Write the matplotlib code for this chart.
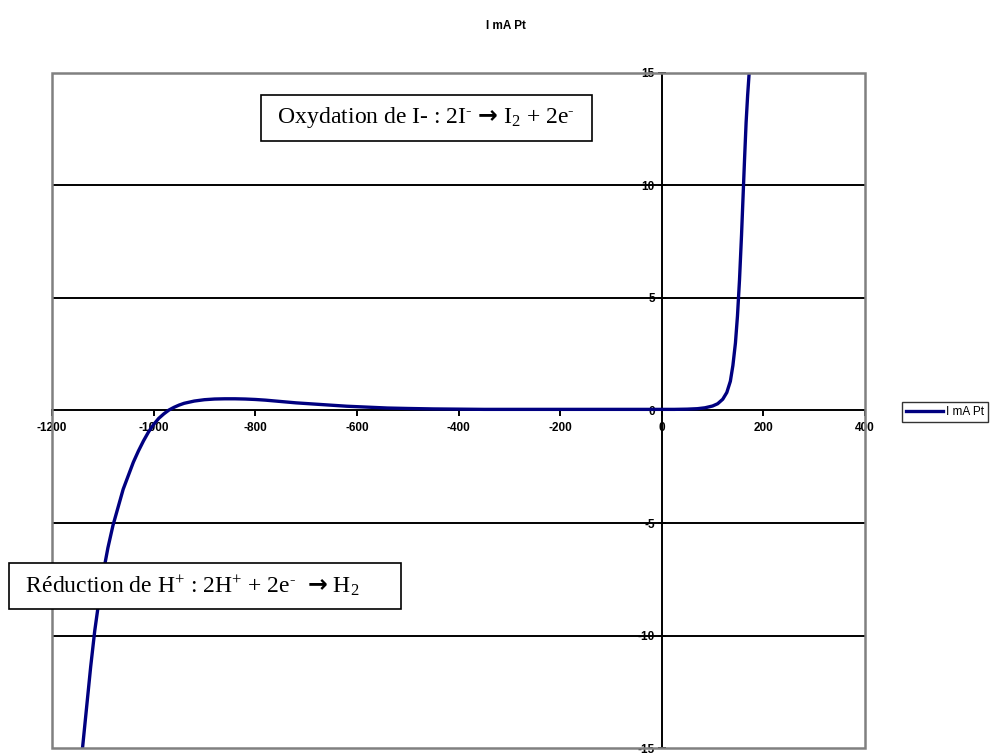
import matplotlib
matplotlib.use('Agg')
import matplotlib.pyplot as plt
from matplotlib.patches import Rectangle

# Data (potential in mV, current in mA)
potential = [-1140, -1132, -1124, -1116, -1108, -1100, -1090, -1080, -1070, -1060,
             -1050, -1040, -1030, -1020, -1010, -1000, -990, -980, -970, -960,
             -950, -940, -920, -900, -880, -860, -840, -820, -800, -780,
             -760, -740, -720, -700, -680, -660, -640, -620, -600, -580,
             -560, -540, -520, -500, -450, -400, -350, -300, -250, -200,
             -150, -100, -50, 0, 25, 50, 70, 85, 100, 110,
             120, 128, 135, 140, 145, 149, 153, 157, 160, 163,
             166, 169, 172]
current = [-15.0, -13.2, -11.4, -9.8, -8.5, -7.3, -6.1, -5.1, -4.3, -3.5,
           -2.9, -2.3, -1.8, -1.35, -0.95, -0.62, -0.35, -0.15, 0.02, 0.14,
           0.24, 0.32, 0.42, 0.48, 0.51, 0.52, 0.52, 0.51, 0.49, 0.46,
           0.42, 0.38, 0.34, 0.31, 0.28, 0.25, 0.22, 0.19, 0.17, 0.15,
           0.13, 0.11, 0.10, 0.09, 0.07, 0.06, 0.05, 0.05, 0.05, 0.05,
           0.05, 0.05, 0.05, 0.05, 0.05, 0.06, 0.08, 0.12, 0.2, 0.3,
           0.5, 0.8, 1.3, 2.0, 3.0, 4.2, 5.8, 7.8, 9.5, 11.2,
           12.8, 14.0, 15.0]

x_ticks = [-1200, -1000, -800, -600, -400, -200, 0, 200, 400]
y_ticks = [-15, -10, -5, 0, 5, 10, 15]
grid_levels = [-10, -5, 5, 10]

series_name = 'I mA Pt'
ox_label = r' Oxydation de I- : 2I$^{\text{-}}$ $\mathbf{→}$ I$_{2}$ + 2e$^{\text{-}}$  '
red_label = r' Réduction de H$^{+}$ : 2H$^{+}$ + 2e$^{\text{-}}$  $\mathbf{→}$ H$_{2}$      '

plt.rcParams['axes.unicode_minus'] = False
plt.rcParams['mathtext.fontset'] = 'custom'
plt.rcParams['mathtext.rm'] = 'Liberation Serif'
plt.rcParams['mathtext.it'] = 'Liberation Serif'
plt.rcParams['mathtext.bf'] = 'DejaVu Sans:bold'

fig = plt.figure(figsize=(9.93, 7.53), dpi=100)
ax = fig.add_axes([0.0524, 0.0066, 0.8187, 0.8965])

for lvl in grid_levels:
    ax.axhline(lvl, color='black', lw=1.4, zorder=1)

line, = ax.plot(potential, current, color='#000080', lw=2.4, label=series_name, zorder=3)

ax.set_xlim(-1200, 400)
ax.set_ylim(-15, 15)

# axes crossing at zero
ax.spines['left'].set_position(('data', 0))
ax.spines['bottom'].set_position(('data', 0))
ax.spines['right'].set_visible(False)
ax.spines['top'].set_visible(False)
for s in ['left', 'bottom']:
    ax.spines[s].set_color('black')
    ax.spines[s].set_linewidth(1.4)
    ax.spines[s].set_zorder(2)

ax.set_xticks(x_ticks)
ax.set_xticklabels([str(v) for v in x_ticks])
ax.set_yticks(y_ticks)
ax.set_yticklabels([str(v) for v in y_ticks])
ax.tick_params(axis='x', direction='out', length=4, width=1.4, pad=4,
               labelsize=8.5)
ax.tick_params(axis='y', direction='inout', length=6, width=1.4, pad=2,
               labelsize=8.5)
for lab in ax.get_xticklabels() + ax.get_yticklabels():
    lab.set_fontfamily('Liberation Sans')
    lab.set_fontweight('bold')

# gray plot-area border
ax.add_patch(Rectangle((0, 0), 1, 1, transform=ax.transAxes, fill=False,
                       edgecolor='#808080', lw=1.8, clip_on=False, zorder=4))

fig.text(0.51, 0.966, series_name, ha='center', va='center', fontsize=8.5,
         fontweight='bold', family='Liberation Sans')

box_style = dict(boxstyle='square,pad=0.45', fc='white', ec='black', lw=1.2)
ax.text(-768, 13.0, ox_label, fontsize=17, family='Liberation Serif',
        va='center', ha='left', bbox=box_style, zorder=5)
ax.text(-1264, -7.8, red_label, fontsize=17, family='Liberation Serif',
        va='center', ha='left', bbox=box_style, zorder=5)

leg = fig.legend(handles=[line], loc='center left', bbox_to_anchor=(0.902, 0.4525),
                 frameon=True, fancybox=False, edgecolor='black',
                 handlelength=3.2, borderpad=0.35, handletextpad=0.2,
                 prop={'family': 'Liberation Sans', 'size': 8.5})
leg.get_frame().set_linewidth(1.0)

fig.savefig('out.png', dpi=100)
